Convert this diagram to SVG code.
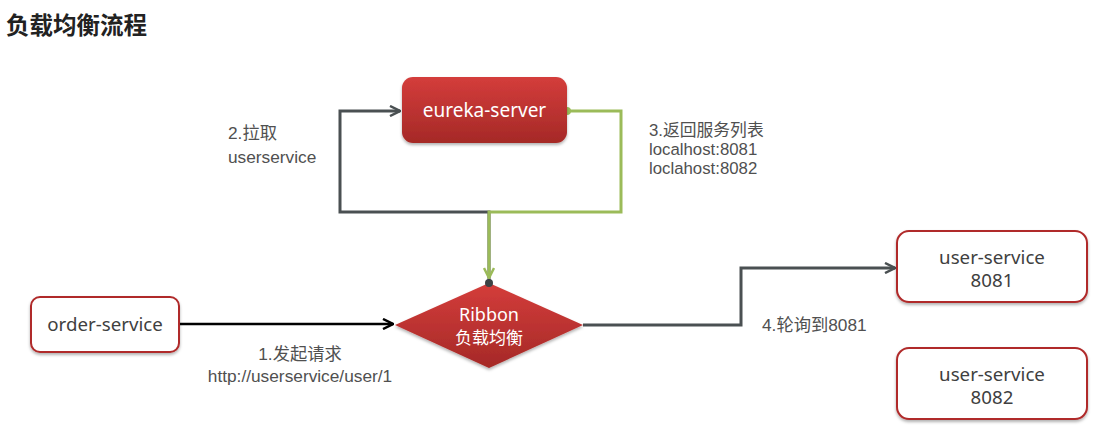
<svg xmlns="http://www.w3.org/2000/svg" width="1102" height="432" viewBox="0 0 1102 432">
<style>
.t{font-family:"Noto Sans","Noto Sans CJK SC",sans-serif;fill:#404040;}
.lbl{font-family:"Liberation Sans","Noto Sans CJK SC",sans-serif;font-size:17.3px;fill:#505050;}
.lbl3{font-size:16.8px;}
.node{font-size:18.7px;}
.wh{fill:#ffffff;}
.box{fill:#ffffff;stroke:#b02a2a;stroke-width:2;}
.gray{fill:none;stroke:#4a5052;stroke-width:3;}
.green{fill:none;stroke:#9bbb59;stroke-width:3;}
.blk{fill:none;stroke:#000000;stroke-width:2.5;}
</style>
<defs>
<linearGradient id="red" x1="0" y1="0" x2="0" y2="1">
<stop offset="0" stop-color="#d43d3b"/>
<stop offset="1" stop-color="#a52927"/>
</linearGradient>
<filter id="sh" x="-10%" y="-10%" width="125%" height="140%">
<feDropShadow dx="0" dy="2" stdDeviation="1.5" flood-color="#000" flood-opacity="0.3"/>
</filter>
<marker id="aGray" viewBox="0 0 12 12" refX="11" refY="6" markerWidth="12" markerHeight="12" markerUnits="userSpaceOnUse" orient="auto">
<path d="M1,1 L11,6 L1,11" fill="none" stroke="#4a5052" stroke-width="2.5"/>
</marker>
<marker id="aGreen" viewBox="0 0 12 12" refX="11" refY="6" markerWidth="12" markerHeight="12" markerUnits="userSpaceOnUse" orient="auto">
<path d="M1,1 L11,6 L1,11" fill="none" stroke="#9bbb59" stroke-width="2.5"/>
</marker>
<marker id="aBlk" viewBox="0 0 12 12" refX="11" refY="6" markerWidth="12" markerHeight="12" markerUnits="userSpaceOnUse" orient="auto">
<path d="M1,1 L11,6 L1,11" fill="none" stroke="#000" stroke-width="2.5"/>
</marker>
</defs>
<rect width="1102" height="432" fill="#ffffff"/>
<text x="6" y="34" class="t" style="font-size:23.5px;font-weight:bold;fill:#222">负载均衡流程</text>

<g id="connectors">
<polyline class="gray" points="489,283 489,212 340,212 340,111 400,111" marker-end="url(#aGray)"/>
<polyline class="green" points="567,111 621,111 621,212 489,212 489,278" marker-end="url(#aGreen)"/>
<circle cx="567" cy="111" r="4" fill="#9bbb59"/>
<polyline class="blk" points="179,324 393,324" marker-end="url(#aBlk)"/>
<polyline class="gray" points="583,325 741,325 741,268 895,268" marker-end="url(#aGray)"/>
<text class="lbl" x="228" y="139">2.拉取</text>
<text class="lbl" x="228" y="163">userservice</text>
<text class="lbl lbl3" x="649" y="136">3.返回服务列表</text>
<text class="lbl lbl3" x="649" y="155">localhost:8081</text>
<text class="lbl lbl3" x="649" y="174">loclahost:8082</text>
<text class="lbl" x="300" y="360" text-anchor="middle">1.发起请求</text>
<text class="lbl" x="300" y="382" text-anchor="middle">http://userservice/user/1</text>
<text class="lbl" x="762" y="331">4.轮询到8081</text>
</g>

<g id="eureka-server">
<rect x="402" y="77" width="165" height="66" rx="11" fill="url(#red)" filter="url(#sh)"/>
<text class="t wh" x="484.5" y="117" text-anchor="middle" style="font-size:19px">eureka-server</text>
</g>

<g id="ribbon">
<polygon points="489,283 583,325 489,368 395,325" fill="url(#red)" filter="url(#sh)"/>
<circle cx="489" cy="283" r="4" fill="#3d4244"/>
<text class="t wh" x="489" y="321" text-anchor="middle" style="font-size:18px">Ribbon</text>
<text class="t wh" x="489" y="344" text-anchor="middle" style="font-size:17px">负载均衡</text>
</g>

<g id="order-service">
<rect class="box" x="31" y="297" width="148" height="55" rx="9" filter="url(#sh)"/>
<text class="t node" x="105" y="331" text-anchor="middle">order-service</text>
</g>

<g id="user-service-8081">
<rect class="box" x="897" y="231" width="190" height="71" rx="12" filter="url(#sh)"/>
<text class="t node" x="992" y="264" text-anchor="middle">user-service</text>
<text class="t node" x="992" y="287" text-anchor="middle">8081</text>
</g>

<g id="user-service-8082">
<rect class="box" x="897" y="348" width="190" height="71" rx="12" filter="url(#sh)"/>
<text class="t node" x="992" y="381" text-anchor="middle">user-service</text>
<text class="t node" x="992" y="404" text-anchor="middle">8082</text>
</g>
</svg>
